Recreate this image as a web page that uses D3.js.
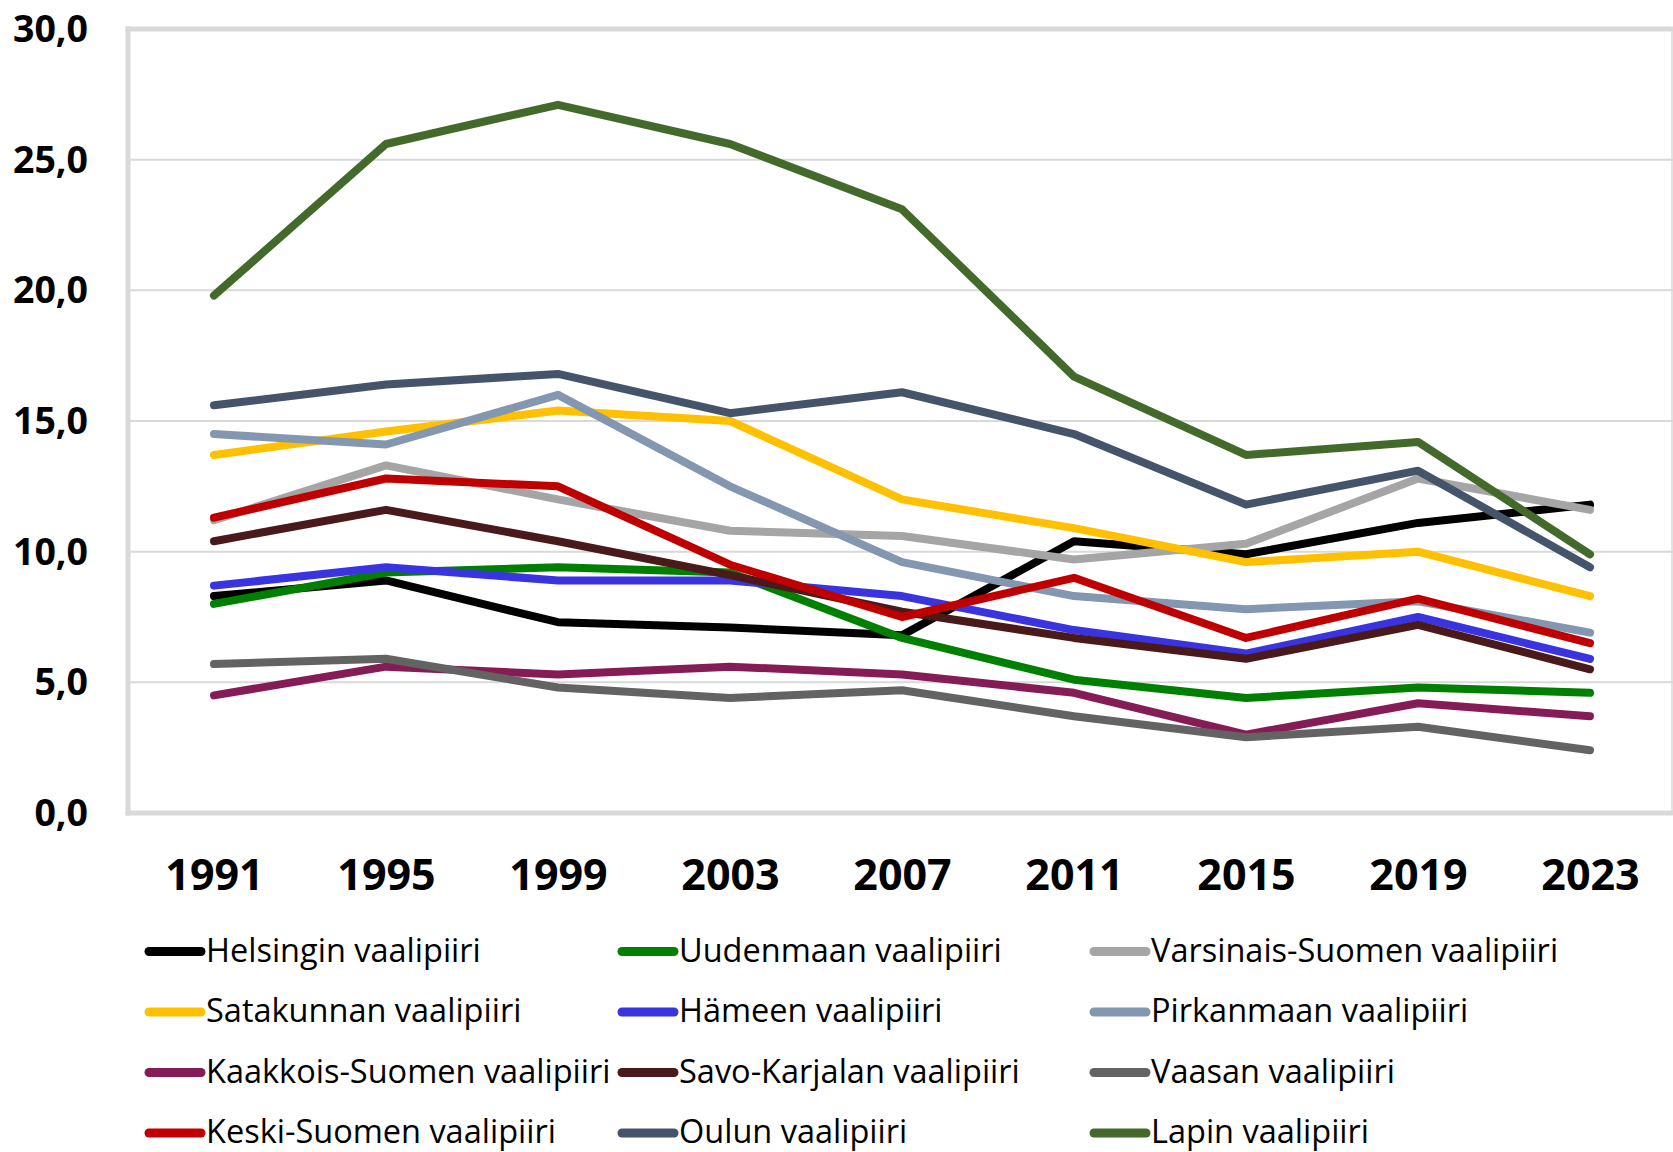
<!DOCTYPE html>
<html>
<head>
<meta charset="utf-8">
<script src="https://cdn.jsdelivr.net/npm/d3@7"></script>
<style>
  html, body { margin: 0; padding: 0; background: #ffffff; }
  svg { display: block; }
</style>
</head>
<body>
<svg id="chart" width="1673" height="1152"></svg>
<script>
// ---- data ----
const years = ["1991", "1995", "1999", "2003", "2007", "2011", "2015", "2019", "2023"];
const yTicks = [0, 5, 10, 15, 20, 25, 30];

const seriesNames = [
  "Helsingin vaalipiiri", "Uudenmaan vaalipiiri", "Varsinais-Suomen vaalipiiri",
  "Satakunnan vaalipiiri", "Hämeen vaalipiiri", "Pirkanmaan vaalipiiri",
  "Kaakkois-Suomen vaalipiiri", "Savo-Karjalan vaalipiiri", "Vaasan vaalipiiri",
  "Keski-Suomen vaalipiiri", "Oulun vaalipiiri", "Lapin vaalipiiri"
];
const seriesColors = [
  "#000000", "#008000", "#a5a5a5",
  "#ffc000", "#3a33e0", "#8497b0",
  "#861c56", "#4a1a1a", "#636363",
  "#c00000", "#44546a", "#436a2b"
];

const helsinki       = [8.3, 8.9, 7.3, 7.1, 6.8, 10.4, 9.9, 11.1, 11.8];
const uusimaa        = [8.0, 9.2, 9.4, 9.2, 6.7, 5.1, 4.4, 4.8, 4.6];
const varsinaisSuomi = [11.2, 13.3, 12.0, 10.8, 10.6, 9.7, 10.3, 12.8, 11.6];
const satakunta      = [13.7, 14.6, 15.4, 15.0, 12.0, 10.9, 9.6, 10.0, 8.3];
const hame           = [8.7, 9.4, 8.9, 8.9, 8.3, 7.0, 6.1, 7.5, 5.9];
const pirkanmaa      = [14.5, 14.1, 16.0, 12.5, 9.6, 8.3, 7.8, 8.1, 6.9];
const kaakkoisSuomi  = [4.5, 5.6, 5.3, 5.6, 5.3, 4.6, 3.0, 4.2, 3.7];
const savoKarjala    = [10.4, 11.6, 10.4, 9.1, 7.7, 6.7, 5.9, 7.2, 5.5];
const vaasa          = [5.7, 5.9, 4.8, 4.4, 4.7, 3.7, 2.9, 3.3, 2.4];
const keskiSuomi     = [11.3, 12.8, 12.5, 9.5, 7.5, 9.0, 6.7, 8.2, 6.5];
const oulu           = [15.6, 16.4, 16.8, 15.3, 16.1, 14.5, 11.8, 13.1, 9.4];
const lappi          = [19.8, 25.6, 27.1, 25.6, 23.1, 16.7, 13.7, 14.2, 9.9];

const seriesValues = [helsinki, uusimaa, varsinaisSuomi, satakunta, hame, pirkanmaa,
  kaakkoisSuomi, savoKarjala, vaasa, keskiSuomi, oulu, lappi];

const series = seriesNames.map((name, i) => ({
  name, color: seriesColors[i],
  values: seriesValues[i].map((v, j) => ({ year: years[j], value: v }))
}));

// ---- layout ----
const svg = d3.select("#chart");
const plotLeft = 128, plotRight = 1676, plotTop = 29, plotBottom = 813;

const x = d3.scalePoint().domain(years).range([plotLeft, plotRight]).padding(0.5);
const y = d3.scaleLinear().domain([0, 30]).range([plotBottom, plotTop]);

const gridColor = "#d9d9d9";

// gridlines
svg.append("g").selectAll("line")
  .data(yTicks.filter(t => t !== 0 && t !== 30))
  .join("line")
  .attr("x1", plotLeft).attr("x2", 1673)
  .attr("y1", d => y(d)).attr("y2", d => y(d))
  .attr("stroke", gridColor).attr("stroke-width", 2);

// frame: top, bottom, left thick; right thin
const frame = svg.append("g");
frame.append("line").attr("x1", plotLeft - 2.5).attr("x2", 1673)
  .attr("y1", y(30)).attr("y2", y(30)).attr("stroke", gridColor).attr("stroke-width", 5);
frame.append("line").attr("x1", plotLeft - 2.5).attr("x2", 1673)
  .attr("y1", y(0)).attr("y2", y(0)).attr("stroke", gridColor).attr("stroke-width", 5);
frame.append("line").attr("x1", plotLeft).attr("x2", plotLeft)
  .attr("y1", y(30) - 2.5).attr("y2", y(0) + 2.5).attr("stroke", gridColor).attr("stroke-width", 5);
frame.append("line").attr("x1", 1672).attr("x2", 1672)
  .attr("y1", y(30)).attr("y2", y(0)).attr("stroke", gridColor).attr("stroke-width", 1.5);

// y axis labels
const fmt = d => d3.format(".1f")(d).replace(".", ",");
const yAxis = d3.axisLeft(y).tickValues(yTicks).tickFormat(fmt).tickSize(0).tickPadding(0);
const gy = svg.append("g").attr("transform", "translate(88,0)").call(yAxis);
gy.select(".domain").remove();
gy.selectAll("text")
  .attr("font-family", "'Open Sans', sans-serif")
  .attr("font-weight", "bold")
  .attr("font-size", 37.5)
  .attr("fill", "#000")
  .attr("dy", "0.33em");

// x axis labels
const xAxis = d3.axisBottom(x).tickSize(0).tickPadding(0);
const gx = svg.append("g").attr("transform", "translate(0,890)").call(xAxis);
gx.select(".domain").remove();
gx.selectAll("text")
  .attr("font-family", "'Open Sans', sans-serif")
  .attr("font-weight", "bold")
  .attr("font-size", 43)
  .attr("fill", "#000")
  .attr("y", 0).attr("dy", 0);

// lines
const line = d3.line().x(d => x(d.year)).y(d => y(d.value));
svg.append("g").selectAll("path")
  .data(series)
  .join("path")
  .attr("d", d => line(d.values))
  .attr("fill", "none")
  .attr("stroke", d => d.color)
  .attr("stroke-width", 8)
  .attr("stroke-linecap", "round")
  .attr("stroke-linejoin", "round");

// legend
const colX = [145, 618, 1090];
const rowY = [951.5, 1012, 1072.5, 1133];
const legend = svg.append("g").selectAll("g")
  .data(series)
  .join("g")
  .attr("transform", (d, i) => `translate(${colX[i % 3]},${rowY[Math.floor(i / 3)]})`);
legend.append("line")
  .attr("x1", 4).attr("x2", 56).attr("y1", 0).attr("y2", 0)
  .attr("stroke", d => d.color).attr("stroke-width", 9).attr("stroke-linecap", "round");
legend.append("text")
  .attr("x", 61).attr("y", 10)
  .attr("font-family", "'Open Sans', sans-serif")
  .attr("font-size", 32.5)
  .attr("fill", "#000")
  .text(d => d.name);
</script>
</body>
</html>
